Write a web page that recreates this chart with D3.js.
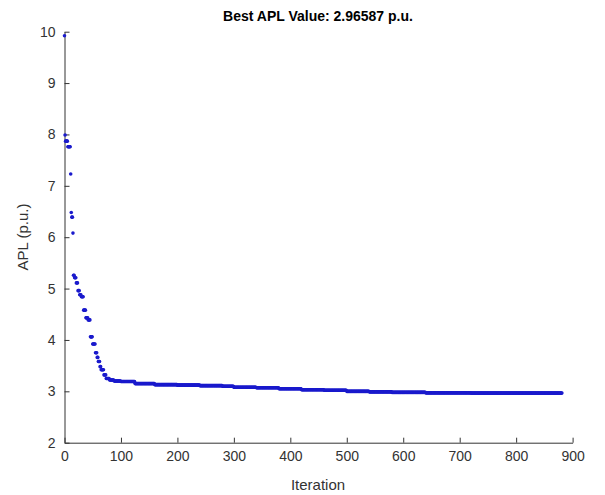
<!DOCTYPE html>
<html lang="en">
<head>
	<meta charset="UTF-8">
	<script src="https://d3js.org/d3.v7.min.js"></script>
	<title>Best APL Value</title>
	<style type="text/css">
		body{
			margin: 0;
			background: #fff;
		}
		.axis text{
			font-family: "Liberation Sans", Arial, sans-serif;
			font-size: 14px;
			fill: #333;
		}
		.axis path, .axis line{
			stroke: #333;
		}
		.dot{
			fill: #1a1acc;
		}
	</style>
</head>
<body onload="main()">
	<svg width="605" height="495"></svg>

	<script>
	// best-so-far APL: iteration where the best value changes, and the new value
	var changeIter  = [0, 1, 2, 6, 11, 12, 13, 15, 16, 18, 21, 24, 27, 30, 34, 38, 42, 46, 50,
	                   55, 58, 60, 63, 65, 70, 74, 80, 88, 100, 125, 160, 200, 240, 280, 300,
	                   340, 380, 420, 460, 500, 540, 580, 640, 720];
	var changeValue = [9.92, 7.99, 7.87, 7.76, 7.23, 6.48, 6.39, 6.08, 5.26, 5.21, 5.11, 4.96, 4.88, 4.84, 4.58, 4.43, 4.39, 4.06, 3.92,
	                   3.75, 3.66, 3.58, 3.48, 3.42, 3.32, 3.25, 3.22, 3.20, 3.19, 3.15, 3.13, 3.12, 3.11, 3.10, 3.08,
	                   3.07, 3.05, 3.03, 3.02, 3.00, 2.99, 2.98, 2.97, 2.96587];
	var nIter = 882;
	var xTicks = [0, 100, 200, 300, 400, 500, 600, 700, 800, 900];
	var yTicks = [2, 3, 4, 5, 6, 7, 8, 9, 10];

	function main() {
		var svg = d3.select("svg");

		var left = 64.5, right = 572.6, top = 31.7, bottom = 442.7;

		var xScale = d3.scaleLinear().domain([0, 900]).range([left, right]),
		    yScale = d3.scaleLinear().domain([2, 10]).range([bottom, top]);

		// expand the change points into one value per iteration
		var data = [];
		var k = 0;
		for (var i = 0; i < nIter; i++) {
			while (k + 1 < changeIter.length && changeIter[k + 1] <= i) k++;
			data.push({it: i, value: changeValue[k]});
		}

		svg.append("g")
		   .attr("class", "axis")
		   .attr("transform", "translate(0," + bottom + ")")
		   .call(d3.axisBottom(xScale).tickValues(xTicks).tickSize(-5).tickPadding(8).tickSizeOuter(0));

		svg.append("g")
		   .attr("class", "axis")
		   .attr("transform", "translate(" + left + ",0)")
		   .call(d3.axisLeft(yScale).tickValues(yTicks).tickSize(-5).tickPadding(9).tickSizeOuter(0));

		svg.selectAll(".dot")
		   .data(data)
		   .enter().append("circle")
		   .attr("class", "dot")
		   .attr("cx", function(d) { return xScale(d.it); })
		   .attr("cy", function(d) { return yScale(d.value); })
		   .attr("r", 1.8);

		svg.append("text")
		   .attr("x", 318)
		   .attr("y", 21)
		   .attr("text-anchor", "middle")
		   .attr("font-family", "Liberation Sans, Arial, sans-serif")
		   .attr("font-size", "14px")
		   .attr("font-weight", "bold")
		   .attr("fill", "#000")
		   .text("Best APL Value: 2.96587 p.u.");

		svg.append("text")
		   .attr("x", 318)
		   .attr("y", 490)
		   .attr("text-anchor", "middle")
		   .attr("font-family", "Liberation Sans, Arial, sans-serif")
		   .attr("font-size", "15px")
		   .attr("fill", "#333")
		   .text("Iteration");

		svg.append("text")
		   .attr("transform", "translate(28,237) rotate(-90)")
		   .attr("text-anchor", "middle")
		   .attr("font-family", "Liberation Sans, Arial, sans-serif")
		   .attr("font-size", "15px")
		   .attr("fill", "#333")
		   .text("APL (p.u.)");
	}
	</script>
</body>
</html>
